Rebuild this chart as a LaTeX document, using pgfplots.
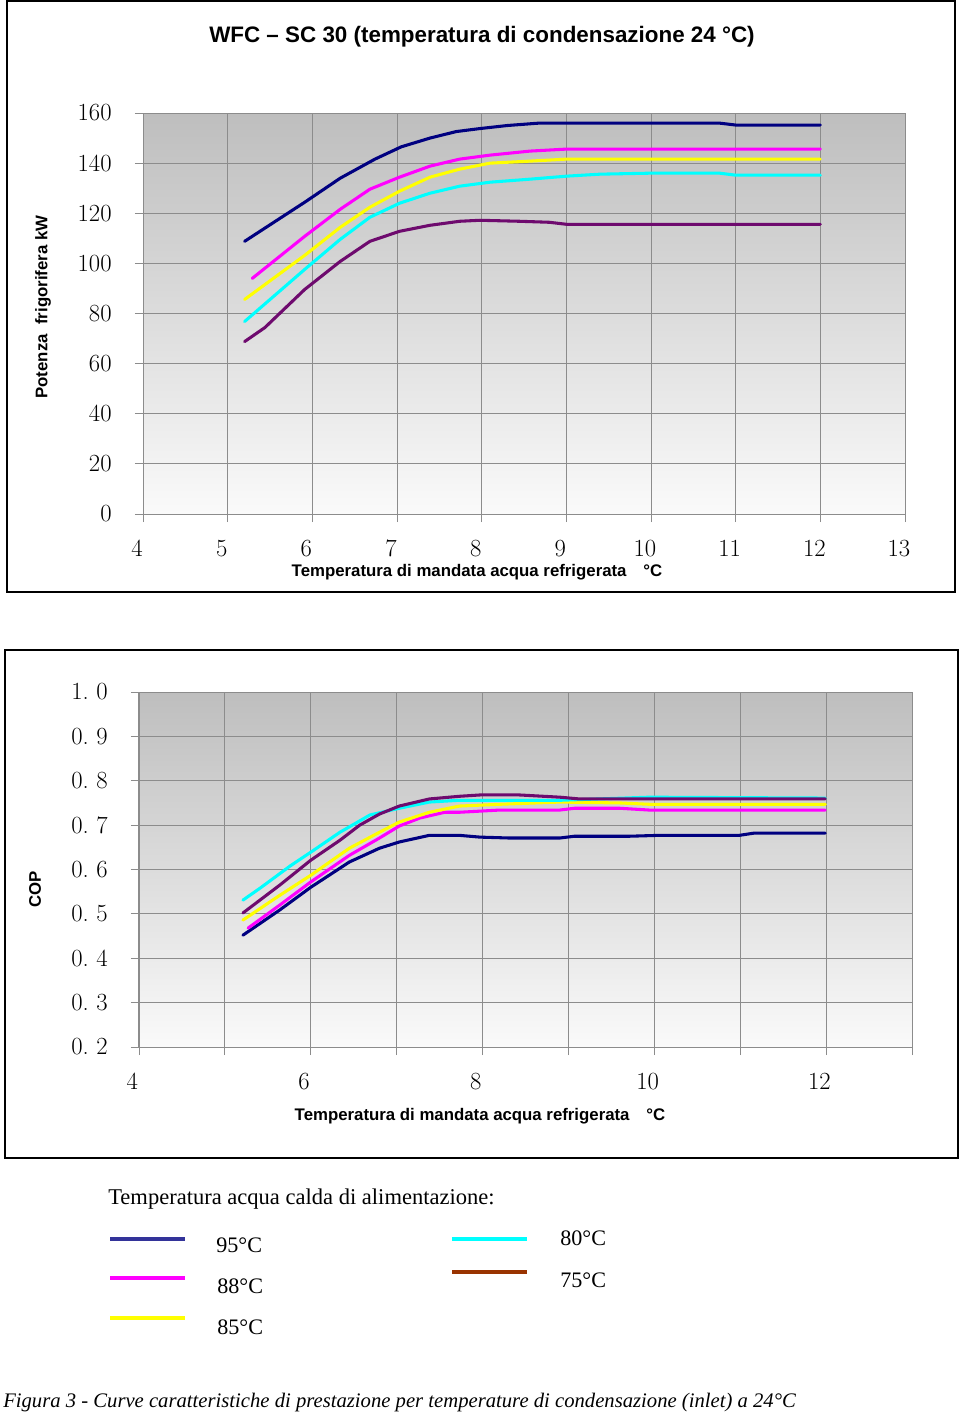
\documentclass[border=0pt]{standalone}
\usepackage{fontspec}
\usepackage{pgfplots}
\pgfplotsset{compat=1.18}
\newfontfamily\arial{Liberation Sans}
\newfontfamily\tnr{Liberation Serif}
\definecolor{cnavy}{RGB}{0,0,128}
\definecolor{cmag}{RGB}{255,0,255}
\definecolor{cyel}{RGB}{255,255,0}
\definecolor{ccyan}{RGB}{0,255,255}
\definecolor{cpurp}{RGB}{110,10,110}
\definecolor{lnavy}{RGB}{51,51,153}
\definecolor{lbrown}{RGB}{153,51,0}
\definecolor{bgtop}{RGB}{190,190,190}
\definecolor{bgbot}{RGB}{250,250,250}
\definecolor{gridc}{RGB}{140,140,140}
\pgfplotsset{
  mystyle/.style={
    scale only axis,
    axis background/.style={top color=bgtop, bottom color=bgbot},
    grid=major,
    grid style={gridc, line width=0.6pt},
    axis line style={gridc, line width=0.75pt},
    tick style={gridc, line width=0.6pt},
    tick align=outside,
    major tick length=6pt,
    tick pos=left,
    /pgf/number format/assume math mode=true,
    ticklabel style={font=\fontsize{18.5}{18.5}\selectfont},
    every axis plot/.append style={line width=2.3pt, line join=round, line cap=round},
  }
}
\begin{document}
\begin{tikzpicture}
\useasboundingbox (0,0) rectangle (720pt,-1061.25pt);
% Chart 1
\begin{axis}[mystyle,
  at={(107.25pt,-385.5pt)}, anchor=south west,
  width=571.5pt, height=300.75pt,
  xmin=4, xmax=13, ymin=0, ymax=160,
  xtick={4,...,13}, ytick={0,20,...,160},
  xticklabel style={xshift=-4.5pt, yshift=-10pt},
  yticklabel style={xshift=-14pt},
]
\addplot[cnavy] coordinates {(5.2,108.8) (5.91,124.4) (6.33,134) (6.74,141.6) (7.05,146.5) (7.39,150) (7.7,152.6) (7.98,153.8) (8.3,155) (8.69,156) (10.8,156) (11.0,155.2) (12.0,155.2)};
\addplot[cmag] coordinates {(5.29,94) (5.91,110.8) (6.33,121.6) (6.68,129.6) (7.03,134.4) (7.39,138.8) (7.74,141.6) (8.1,143.2) (8.57,144.8) (9.0,145.6) (12,145.6)};
\addplot[cyel] coordinates {(5.2,85.6) (5.91,103.2) (6.33,114.4) (6.68,122.4) (7.03,128.8) (7.39,134.4) (7.74,137.6) (8.1,140) (8.57,140.8) (9.0,141.6) (12,141.6)};
\addplot[ccyan] coordinates {(5.2,76.8) (5.91,97.6) (6.33,109.6) (6.68,118.4) (7.03,124) (7.39,128) (7.74,130.8) (8.1,132.4) (8.57,133.6) (9.0,134.8) (9.4,135.6) (10,136) (10.81,136) (11,135.2) (12,135.2)};
\addplot[cpurp] coordinates {(5.2,68.8) (5.44,74.4) (5.91,89.6) (6.33,100.8) (6.68,108.8) (7.03,112.8) (7.39,115.2) (7.74,116.8) (7.98,117.2) (8.45,116.8) (8.8,116.4) (9.0,115.6) (12,115.6)};
\end{axis}
% Chart 2
\begin{axis}[mystyle,
  at={(104.25pt,-785.25pt)}, anchor=south west,
  width=579.75pt, height=266.25pt,
  xmin=4, xmax=13, ymin=0.2, ymax=1.0,
  xtick={4,...,13}, xticklabels={4,,6,,8,,10,,12,},
  ytick={0.2,0.3,...,1.0},
  yticklabels={0.\ 2,0.\ 3,0.\ 4,0.\ 5,0.\ 6,0.\ 7,0.\ 8,0.\ 9,1.\ 0},
  xticklabel style={xshift=-5pt, yshift=-10pt},
  yticklabel style={xshift=-14pt},
]
\addplot[cnavy] coordinates {(5.21,0.452) (5.64,0.509) (6.0,0.56) (6.45,0.617) (6.8,0.648) (7.03,0.662) (7.38,0.677) (7.73,0.677) (7.97,0.673) (8.31,0.671) (8.9,0.671) (9.07,0.675) (9.71,0.675) (10.06,0.677) (10.99,0.677) (11.16,0.682) (11.99,0.682)};
\addplot[cmag] coordinates {(5.27,0.468) (5.64,0.52) (6.0,0.572) (6.45,0.632) (6.8,0.671) (7.03,0.698) (7.27,0.716) (7.56,0.729) (7.73,0.729) (8.2,0.734) (8.9,0.734) (9.07,0.738) (9.6,0.738) (9.94,0.734) (11.99,0.734)};
\addplot[cyel] coordinates {(5.21,0.486) (5.64,0.542) (6.0,0.587) (6.45,0.648) (6.8,0.684) (7.03,0.707) (7.38,0.729) (7.73,0.743) (8.2,0.747) (8.9,0.752) (9.6,0.75) (9.94,0.747) (11.99,0.747)};
\addplot[ccyan] coordinates {(5.21,0.531) (5.41,0.558) (5.76,0.608) (6.0,0.639) (6.34,0.684) (6.69,0.723) (7.03,0.738) (7.38,0.752) (7.73,0.756) (8.9,0.756) (9.94,0.763) (11.99,0.761)};
\addplot[cpurp] coordinates {(5.21,0.502) (5.64,0.565) (6.0,0.621) (6.34,0.666) (6.57,0.7) (6.8,0.725) (7.03,0.743) (7.38,0.759) (7.73,0.765) (7.97,0.768) (8.43,0.768) (8.9,0.763) (9.13,0.759) (11.99,0.759)};
\end{axis}
\begin{scope}[x=0.75pt,y=-0.75pt]
\draw[line width=1.5pt] (7,1) rectangle (955,592);
\draw[line width=1.5pt] (5,650) rectangle (958,1158);
\node[font=\arial\bfseries\fontsize{16.8}{16.8}\selectfont] at (482,37) {WFC – SC 30 (temperatura di condensazione 24 °C)};
\node[font=\arial\bfseries\fontsize{12.6}{12.6}\selectfont] at (477,572) {Temperatura di mandata acqua refrigerata\quad °C};
\node[font=\arial\bfseries\fontsize{12.6}{12.6}\selectfont, rotate=90] at (43,307) {Potenza\ \ frigorifera kW};
\node[font=\arial\bfseries\fontsize{12.6}{12.6}\selectfont] at (480,1116) {Temperatura di mandata acqua refrigerata\quad °C};
\node[font=\arial\bfseries\fontsize{12.6}{12.6}\selectfont, rotate=90] at (35,889) {COP};
\node[font=\tnr\fontsize{16.9}{16.9}\selectfont, anchor=west, inner sep=0pt] at (108,1199) {Temperatura acqua calda di alimentazione:};
\draw[lnavy, line width=2.3pt] (110,1239) -- (185,1239);
\draw[cmag, line width=2.3pt] (110,1278) -- (185,1278);
\draw[cyel, line width=2.3pt] (110,1318) -- (185,1318);
\draw[ccyan, line width=2.3pt] (452,1239) -- (527,1239);
\draw[lbrown, line width=2.3pt] (452,1272) -- (527,1272);
\node[font=\tnr\fontsize{16.6}{16.6}\selectfont, anchor=west, inner sep=0pt] at (216,1245) {95°C};
\node[font=\tnr\fontsize{16.6}{16.6}\selectfont, anchor=west, inner sep=0pt] at (217,1286) {88°C};
\node[font=\tnr\fontsize{16.6}{16.6}\selectfont, anchor=west, inner sep=0pt] at (217,1327) {85°C};
\node[font=\tnr\fontsize{16.6}{16.6}\selectfont, anchor=west, inner sep=0pt] at (560,1238) {80°C};
\node[font=\tnr\fontsize{16.6}{16.6}\selectfont, anchor=west, inner sep=0pt] at (560,1280) {75°C};
\node[font=\tnr\itshape\fontsize{15.5}{15.5}\selectfont, anchor=west, inner sep=0pt] at (3,1403) {Figura 3 - Curve caratteristiche di prestazione per temperature di condensazione (inlet) a 24°C};
\end{scope}
\end{tikzpicture}
\end{document}
